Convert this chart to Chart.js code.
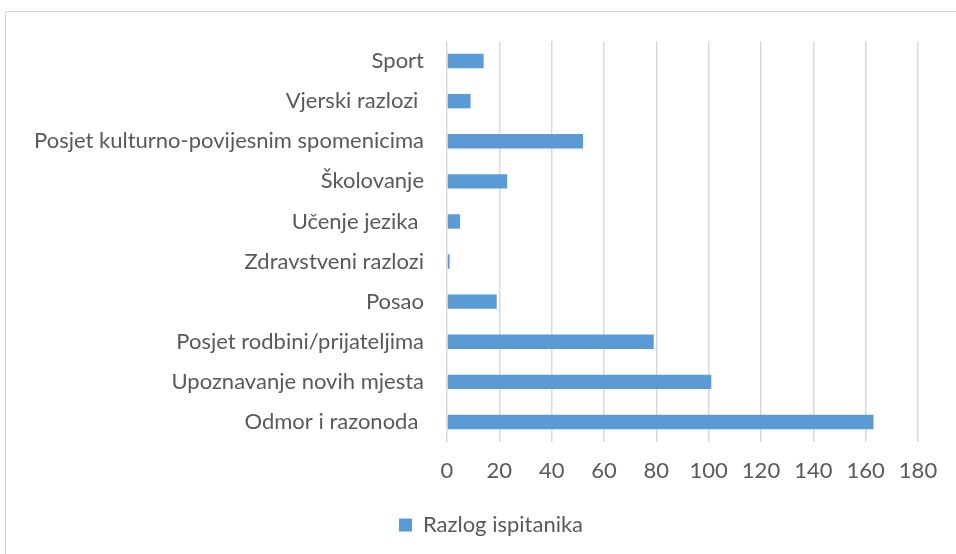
<!DOCTYPE html>
<html>
<head>
<meta charset="utf-8">
<script src="https://cdn.jsdelivr.net/npm/chart.js@4/dist/chart.umd.min.js"></script>
<style>
  html, body { margin: 0; padding: 0; background: #fff; overflow: hidden; }
  #wrap { position: relative; width: 956px; height: 554px; }
  #frame { position: absolute; left: 5px; top: 11px; width: 1100px; height: 700px; border: 1px solid #d9d9d9; }
  canvas { position: absolute; left: 0; top: 0; }
</style>
</head>
<body>
<div id="wrap">
  <div id="frame"></div>
  <canvas id="reasonChart" width="956" height="554"></canvas>
</div>
<script>
// categories, top to bottom as in the picture
var categories = [
  "Sport",
  "Vjerski razlozi ",
  "Posjet kulturno-povijesnim spomenicima",
  "Školovanje",
  "Učenje jezika ",
  "Zdravstveni razlozi",
  "Posao",
  "Posjet rodbini/prijateljima",
  "Upoznavanje novih mjesta",
  "Odmor i razonoda "
];
var seriesName = "Razlog ispitanika";
var seriesValues = [14, 9, 52, 23, 5, 1, 19, 79, 101, 163];
var tickValues = [0, 20, 40, 60, 80, 100, 120, 140, 160, 180];

var fontFamily = "Lato, 'Open Sans', sans-serif";
var textColor = "#595959";

// nudge the legend a little to the right, like in the original
var legendShift = {
  id: "legendShift",
  afterLayout: function (chart) {
    if (chart.legend) {
      chart.legend.left += 32;
      chart.legend.right += 32;
    }
  }
};

var ctx = document.getElementById("reasonChart").getContext("2d");
var reasonChart = new Chart(ctx, {
  type: "bar",
  data: {
    labels: categories,
    datasets: [{
      label: seriesName,
      data: seriesValues,
      backgroundColor: "#5b9bd5",
      borderWidth: 0,
      categoryPercentage: 1,
      barPercentage: 0.36
    }]
  },
  plugins: [legendShift],
  options: {
    indexAxis: "y",
    responsive: false,
    animation: false,
    layout: { padding: { top: 41, right: 38, left: 0, bottom: 8 } },
    plugins: {
      legend: {
        position: "bottom",
        labels: {
          color: textColor,
          font: { family: fontFamily, size: 22 },
          boxWidth: 13,
          boxHeight: 13,
          padding: 10
        }
      },
      tooltip: { enabled: false }
    },
    scales: {
      x: {
        min: 0,
        max: 180,
        afterBuildTicks: function (scale) {
          scale.ticks = tickValues.map(function (v) { return { value: v }; });
        },
        afterFit: function (scale) { scale.height = 62; },
        grid: { color: "#d9d9d9", lineWidth: 1.5, drawTicks: false },
        border: { display: false },
        ticks: { color: textColor, font: { family: fontFamily, size: 22 }, padding: 16 }
      },
      y: {
        grid: { display: false, drawTicks: false },
        border: { display: false },
        afterFit: function (scale) { scale.width = 447; },
        ticks: { color: textColor, font: { family: fontFamily, size: 22 }, padding: 23, autoSkip: false }
      }
    }
  }
});
</script>
</body>
</html>
